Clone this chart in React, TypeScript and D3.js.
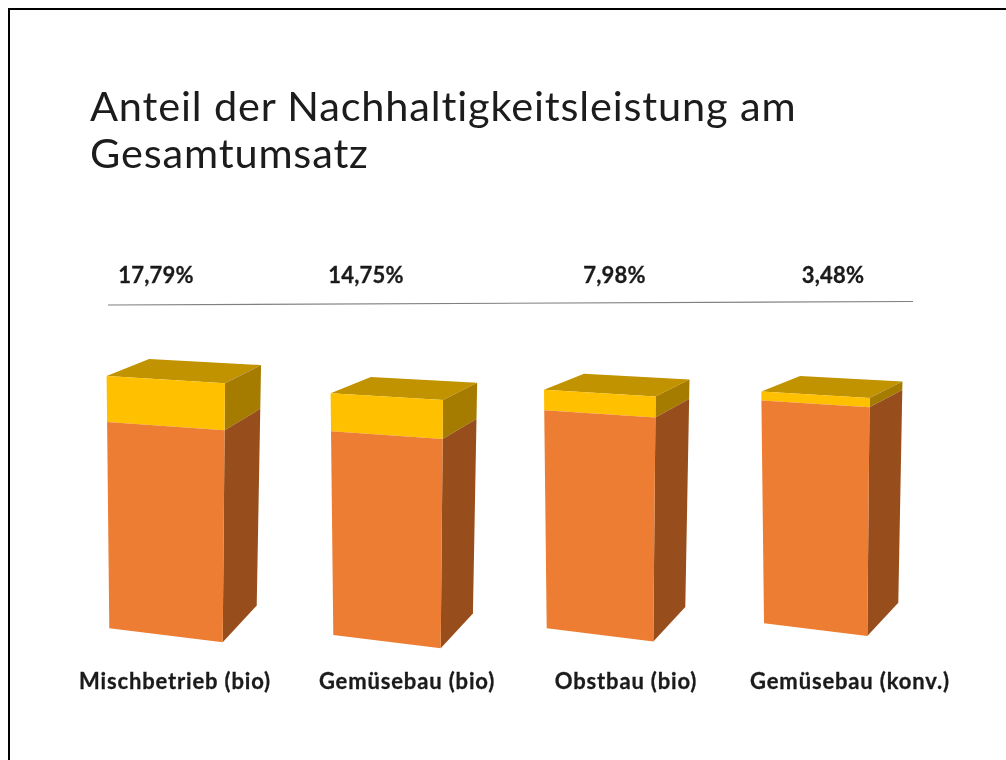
import React from "react";
import * as d3 from "d3";

const titleLines = ["Anteil der Nachhaltigkeitsleistung am", "Gesamtumsatz"];
const categories = ["Mischbetrieb (bio)", "Gemüsebau (bio)", "Obstbau (bio)", "Gemüsebau (konv.)"];
const shareLabels = ["17,79%", "14,75%", "7,98%", "3,48%"];
// yellow segment: sustainability share (%)
const shareValues = [17.79, 14.75, 7.98, 3.48];
// orange segment, in the same drawn units
const restValues = [80, 79, 84.5, 86.4];

const W = 1006;
const H = 760;
const font = "Lato, Carlito, 'Open Sans', sans-serif";

const heightScale = d3.scaleLinear().domain([0, 100]).range([0, 258]);
const baseX = d3.scaleOrdinal<string, number>().domain(categories).range([109.3, 333.3, 546.7, 764]);
const baseY = d3.scaleOrdinal<string, number>().domain(categories).range([628.3, 635, 628.3, 623.3]);
const barWidth = d3.scaleOrdinal<string, number>().domain(categories).range([113.4, 107.4, 106.6, 103.3]);
const shareX = d3.scaleOrdinal<string, number>().domain(categories).range([156, 366, 614.5, 833]);
const nameX = d3.scaleOrdinal<string, number>().domain(categories).range([175, 407, 626, 850]);

const poly = (pts: [number, number][]) => d3.line()(pts)! + "Z";

function bar(cat: string, i: number) {
  const x0 = baseX(cat);
  const y0 = baseY(cat);
  const w = barWidth(cat);
  const rest = heightScale(restValues[i]);
  const total = rest + heightScale(shareValues[i]);
  const totalR = total + 0.06 * w;

  const frontL = (h: number): [number, number] => [x0 - 2.7 * (h / total), y0 - h];
  const frontR = (h: number): [number, number] => {
    const f = h / total;
    return [x0 + w + 2.3 * f, y0 + 0.123 * w - f * totalR];
  };
  const backR = (h: number): [number, number] => {
    const f = h / total;
    const p = frontR(h);
    return [p[0] + w * (0.3 + 0.018 * f), p[1] - w * (0.323 - 0.164 * f)];
  };
  const tl = frontL(total);
  const backL: [number, number] = [tl[0] + 0.375 * w, tl[1] - 0.15 * w];

  return (
    <g key={cat}>
      <path d={poly([frontL(total), frontR(total), backR(total), backL])} fill="#C29300" />
      <path d={poly([frontR(rest), frontR(total), backR(total), backR(rest)])} fill="#A67C00" />
      <path d={poly([frontR(0), frontR(rest), backR(rest), backR(0)])} fill="#974D1A" />
      <path d={poly([frontL(rest), frontL(total), frontR(total), frontR(rest)])} fill="#FFC000" />
      <path d={poly([frontL(0), frontL(rest), frontR(rest), frontR(0)])} fill="#ED7D31" />
    </g>
  );
}

export default function App() {
  const boldText = {
    fontFamily: font,
    fontWeight: 700,
    fontSize: 22,
    fill: "#1a1a1a",
    stroke: "#1a1a1a",
    strokeWidth: 0.3,
    textAnchor: "middle",
    style: { fontVariantLigatures: "none" },
  } as const;
  return (
    <svg
      width={W}
      height={H}
      viewBox={`0 0 ${W} ${H}`}
      style={{ position: "absolute", left: 0, top: 0, background: "#fff" }}
    >
      <defs>
        <filter id="soft" x="-5%" y="-5%" width="110%" height="110%">
          <feGaussianBlur stdDeviation="0.7" />
        </filter>
      </defs>
      <g filter="url(#soft)">
        <path d={`M9 ${H}V9H${W}`} fill="none" stroke="#000" strokeWidth={2} />
        {titleLines.map((t, i) => (
          <text
            key={t}
            x={90}
            y={120.7 + i * 47.6}
            fontFamily={font}
            fontSize={41.5}
            letterSpacing={0.85}
            fill="#1a1a1a"
            style={{ fontVariantLigatures: "none" }}
          >
            {t}
          </text>
        ))}
        {categories.map((c, i) => (
          <text key={c} x={shareX(c)} y={282.7} letterSpacing={0.2} {...boldText}>
            {shareLabels[i]}
          </text>
        ))}
        <line x1={108} y1={305} x2={913} y2={301.5} stroke="#808080" strokeWidth={1.1} />
        {categories.map(bar)}
        {categories.map((c) => (
          <text key={c} x={nameX(c)} y={689} letterSpacing={0.85} {...boldText}>
            {c}
          </text>
        ))}
      </g>
    </svg>
  );
}
